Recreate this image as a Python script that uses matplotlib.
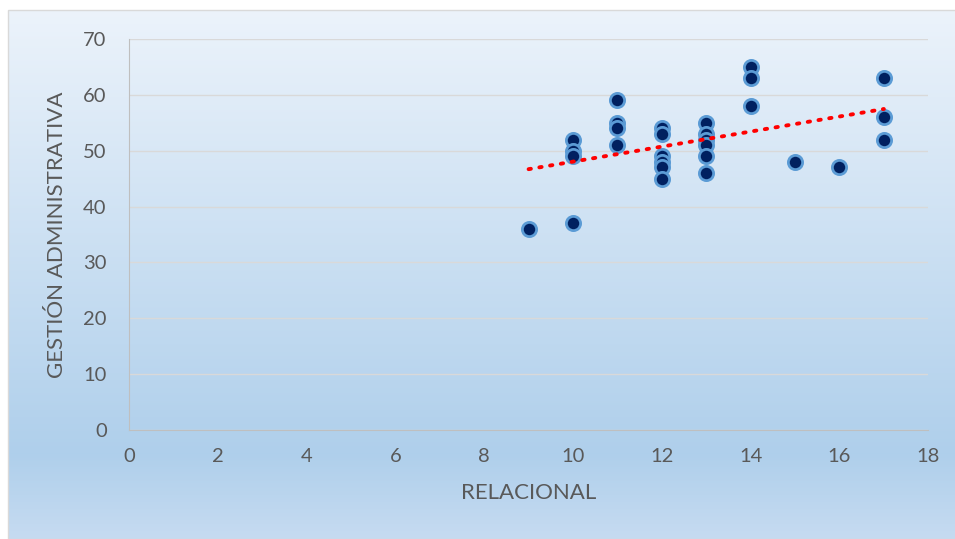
import numpy as np
import matplotlib.pyplot as plt
from matplotlib.patches import Rectangle

plt.rcParams['font.family'] = ['Lato', 'DejaVu Sans']

# datos
relacional = [9, 10, 10, 10, 10, 11, 11, 11, 11, 12, 12, 12, 12, 12, 12,
              13, 13, 13, 13, 13, 13, 14, 14, 14, 15, 16, 17, 17, 17]
gestion = [36, 37, 52, 50, 49, 59, 55, 54, 51, 54, 53, 49, 48, 47, 45,
           55, 53, 52, 51, 49, 46, 65, 63, 58, 48, 47, 63, 56, 52]
xticks = [0, 2, 4, 6, 8, 10, 12, 14, 16, 18]
yticks = [0, 10, 20, 30, 40, 50, 60, 70]

fig = plt.figure(figsize=(9.55, 5.39), dpi=100)

# fondo degradado
bg = fig.add_axes([0, 0, 1, 1], zorder=-10)
bg.set_xlim(0, 1)
bg.set_ylim(0, 1)
bg.axis('off')
top = np.array([0.925, 0.953, 0.984])
mid = np.array([0.686, 0.812, 0.922])
bot = np.array([0.776, 0.859, 0.945])
n = 300
t = np.linspace(0, 1, n)[:, None]
stop = 0.84
grad = np.where(t < stop, top + (mid - top) * (t / stop),
                mid + (bot - mid) * ((t - stop) / (1 - stop)))
bg.imshow(grad[:, None, :].repeat(2, axis=1), extent=[8/955, 1, 0, 1 - 10/539],
          aspect='auto', origin='upper')
bg.add_patch(Rectangle((8/955, 0), 1, 1 - 10/539, fill=False, ec='#d9d9d9', lw=1))

ax = fig.add_axes([0.135, 0.2022, 0.837, 0.7254])
ax.patch.set_alpha(0)
ax.set_xlim(0, 18)
ax.set_ylim(0, 70)
ax.set_xticks(xticks)
ax.set_yticks(yticks)
ax.grid(axis='y', color='#d9d9d9', lw=1)
ax.set_axisbelow(True)
for s in ['top', 'right']:
    ax.spines[s].set_visible(False)
for s in ['left', 'bottom']:
    ax.spines[s].set_color('#bfbfbf')
ax.tick_params(length=0, labelsize=14.5, colors='#595959')
ax.tick_params(axis='x', pad=13)
ax.tick_params(axis='y', pad=16)

ax.scatter(relacional, gestion, s=105, c='#002060', edgecolors='#5b9bd5',
           linewidths=2, zorder=3)

# linea de tendencia
m, b = np.polyfit(relacional, gestion, 1)
xs = np.array([min(relacional), max(relacional)])
ax.plot(xs, m * xs + b, color='#ff0000', lw=2.8, ls=(0, (0.6, 2.2)),
        dash_capstyle='round', zorder=4)

ax.set_xlabel('RELACIONAL', fontsize=16, color='#595959', labelpad=13)
ax.set_ylabel('GESTIÓN ADMINISTRATIVA', fontsize=16, color='#595959', labelpad=12)

fig.savefig('out.png', dpi=100)
